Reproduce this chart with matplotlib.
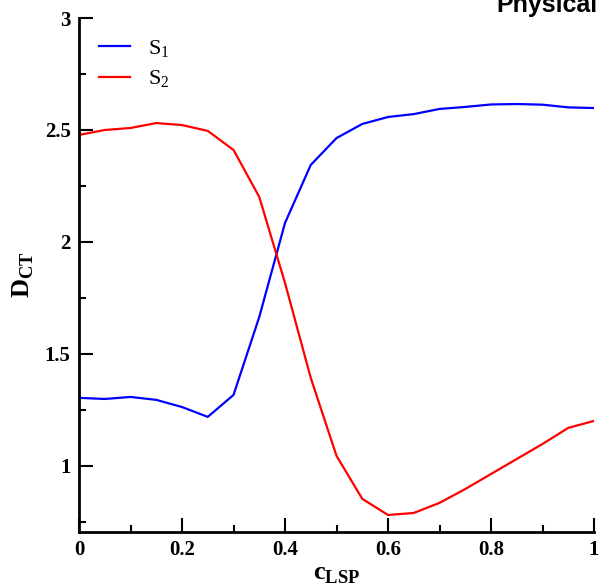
import numpy as np
import matplotlib.pyplot as plt
from matplotlib.ticker import MultipleLocator

# sampled values of the two curves
c_lsp = [0.0, 0.05, 0.1, 0.15, 0.2, 0.25, 0.3, 0.35, 0.4, 0.45, 0.5,
         0.55, 0.6, 0.65, 0.7, 0.75, 0.8, 0.85, 0.9, 0.95, 1.0]
s1 = [1.304, 1.299, 1.308, 1.295, 1.263, 1.219, 1.317, 1.665, 2.085, 2.344, 2.464,
      2.527, 2.558, 2.571, 2.594, 2.603, 2.614, 2.616, 2.613, 2.601, 2.598]
s2 = [2.478, 2.500, 2.509, 2.531, 2.522, 2.496, 2.411, 2.201, 1.817, 1.393, 1.045,
      0.853, 0.781, 0.790, 0.835, 0.897, 0.964, 1.031, 1.098, 1.170, 1.201]

fig = plt.figure(figsize=(5.99, 5.85), dpi=100)
ax = fig.add_axes([0.1319, 0.0906, 0.8598, 0.8786])

ax.plot(c_lsp, s1, color='#0000ff', lw=1.6, label='S$_\\mathregular{1}$')
ax.plot(c_lsp, s2, color='#ff0000', lw=1.6, label='S$_\\mathregular{2}$')

ax.set_xlim(0, 1)
ax.set_ylim(0.705, 3)
ax.xaxis.set_minor_locator(MultipleLocator(0.1))
ax.yaxis.set_minor_locator(MultipleLocator(0.25))
ax.set_xticks([0, 0.2, 0.4, 0.6, 0.8, 1.0])
ax.set_xticklabels(['0', '0.2', '0.4', '0.6', '0.8', '1'])
ax.set_yticks([1, 1.5, 2, 2.5, 3])
ax.set_yticklabels(['1', '1.5', '2', '2.5', '3'])

for s in ['top', 'right']:
    ax.spines[s].set_visible(False)
for s in ['left', 'bottom']:
    ax.spines[s].set_linewidth(2)

ax.tick_params(which='major', direction='in', length=10, width=1.5, pad=6)
ax.tick_params(which='minor', direction='in', length=5, width=1.5)
for lab in ax.get_xticklabels() + ax.get_yticklabels():
    lab.set_family('Liberation Serif')
    lab.set_fontweight('bold')
    lab.set_fontsize(15)

ax.set_xlabel('c$_\\mathregular{LSP}$', family='Liberation Serif', fontweight='bold',
              fontsize=19, labelpad=2)
ax.set_ylabel('D$_\\mathregular{CT}$', family='Liberation Serif', fontweight='bold',
              fontsize=19, labelpad=6)

leg = ax.legend(loc='upper left', bbox_to_anchor=(0.0, 1.0), frameon=False,
                prop={'family': 'Liberation Serif', 'size': 16},
                handlelength=1.4, handletextpad=0.8, labelspacing=0.4)

fig.text(0.998, 1.012, 'Physical', ha='right', va='top', family='Liberation Sans',
         fontweight='bold', fontsize=18)

fig.savefig('out.png', dpi=100)
